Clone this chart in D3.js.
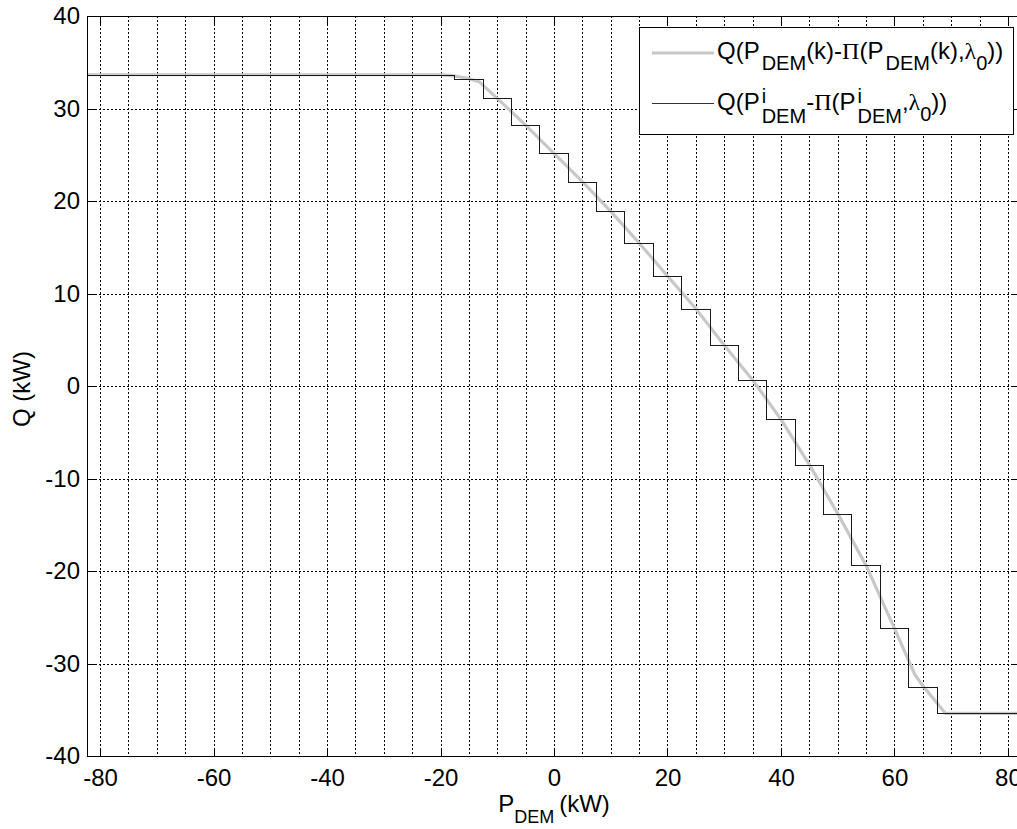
<!DOCTYPE html>
<html lang="en">
<head>
<meta charset="UTF-8">
<title>Q vs P_DEM</title>
<script src="https://cdn.jsdelivr.net/npm/d3@7"></script>
<style>
    body { margin: 0; background: #fff; }
    svg { display: block; font-family: "Liberation Sans", Arial, sans-serif; }
    .grid line { stroke: #000; stroke-width: 1; stroke-dasharray: 2,2; shape-rendering: crispEdges; }
    .frame { fill: none; stroke: #000; stroke-width: 1; shape-rendering: crispEdges; }
    .axis line { stroke: #000; shape-rendering: crispEdges; }
    .axis path { display: none; }
    .axis text { fill: #000; }
</style>
</head>
<body>
<svg id="chart" width="1017" height="829"></svg>
<script>
    // axis limits and tick labels
    let xLimits = [-82.3, 82.3]
    let yLimits = [-40, 40]
    let xTicks = [-80, -60, -40, -20, 0, 20, 40, 60, 80]
    let yTicks = [-40, -30, -20, -10, 0, 10, 20, 30, 40]

    // continuous curve Q(P_DEM(k) - Pi(P_DEM(k), lambda0))  (grey)
    let curveP = [-82.3, -20, -18, -15.5, -13.2, -10, -5, 0, 5, 10, 15, 20, 25, 30, 35, 40, 45, 50, 55, 60, 63.6, 65, 69, 82.3]
    let curveQ = [33.65, 33.65, 33.55, 33.3, 32.9, 31.1, 28.2, 25.16, 22.09, 18.88, 15.46, 11.89, 8.35, 4.4, 0.65, -3.6, -8.5, -13.8, -19.4, -26.2, -31.2, -32.4, -35.4, -35.4]

    // quantised levels Q(P^i_DEM - Pi(P^i_DEM, lambda0))  (black steps)
    let stepP = [-82.3, -20, -15, -10, -5, 0, 5, 10, 15, 20, 25, 30, 35, 40, 45, 50, 55, 60, 65, 70, 82.3]
    let stepQ = [33.65, 33.65, 33.16, 31.1, 28.2, 25.16, 22.09, 18.88, 15.46, 11.89, 8.35, 4.4, 0.65, -3.6, -8.5, -13.8, -19.4, -26.2, -32.5, -35.4, -35.4]

    let plot = {left: 87, right: 1021, top: 16, bottom: 756}
    let svg = d3.select('#chart')

    let x = d3.scaleLinear().domain(xLimits).range([plot.left, plot.right])
    let y = d3.scaleLinear().domain(yLimits).range([plot.bottom, plot.top])
    let px = v => Math.round(x(v)) + 0.5
    let py = v => Math.round(y(v)) + 0.5
    let plain = d => String(d)   // hyphen minus like the original

    // dotted grid: minor every 5 on x, every 10 on y
    let grid = svg.append('g').attr('class', 'grid')
    grid.selectAll('.vg')
        .data(d3.range(-80, 81, 5))
        .enter().append('line')
        .attr('x1', d => px(d)).attr('x2', d => px(d))
        .attr('y1', plot.top).attr('y2', plot.bottom)
    grid.selectAll('.hg')
        .data(yTicks.slice(1, -1))
        .enter().append('line')
        .attr('y1', d => py(d)).attr('y2', d => py(d))
        .attr('x1', plot.left).attr('x2', plot.right)

    let curveData = curveP.map((p, i) => [p, curveQ[i]])
    let stepData = stepP.map((p, i) => [p, stepQ[i]])

    svg.append('path')
        .datum(curveData)
        .attr('d', d3.line().x(d => x(d[0])).y(d => y(d[1])))
        .attr('fill', 'none')
        .attr('stroke', '#c8c8c8')
        .attr('stroke-width', 3.2)

    svg.append('path')
        .datum(stepData)
        .attr('d', d3.line().x(d => x(d[0])).y(d => py(d[1])).curve(d3.curveStep))
        .attr('fill', 'none')
        .attr('stroke', '#1a1a1a')
        .attr('stroke-width', 1)
        .attr('shape-rendering', 'crispEdges')

    // axes: ticks point inwards, box around plot
    let axFont = 24
    svg.append('g').attr('class', 'axis')
        .attr('transform', `translate(0,${plot.bottom})`)
        .call(d3.axisBottom(x).tickValues(xTicks).tickSizeInner(-8).tickSizeOuter(0).tickPadding(13).tickFormat(plain))
        .attr('font-size', axFont).attr('font-family', null)
    svg.append('g').attr('class', 'axis')
        .attr('transform', `translate(0,${plot.top})`)
        .call(d3.axisTop(x).tickValues(xTicks).tickSizeInner(-8).tickSizeOuter(0).tickFormat(''))
    svg.append('g').attr('class', 'axis')
        .attr('transform', `translate(${plot.left},0)`)
        .call(d3.axisLeft(y).tickValues(yTicks).tickSizeInner(-8).tickSizeOuter(0).tickPadding(7).tickFormat(plain))
        .attr('font-size', axFont).attr('font-family', null)
    svg.append('g').attr('class', 'axis')
        .attr('transform', `translate(${plot.right},0)`)
        .call(d3.axisRight(y).tickValues(yTicks).tickSizeInner(-8).tickSizeOuter(0).tickFormat(''))

    svg.append('rect').attr('class', 'frame')
        .attr('x', plot.left).attr('y', plot.top)
        .attr('width', plot.right - plot.left).attr('height', plot.bottom - plot.top)

    // text with sub/superscripts; parts laid out left to right
    function richText(parent, x0, y0, parts) {
        let cx = x0, lastX = x0
        parts.forEach(p => {
            let tx = p.stack ? lastX : cx
            let t = parent.append('text')
                .attr('x', tx).attr('y', y0 + (p.dy || 0))
                .attr('font-size', p.size)
                .attr('fill', '#000')
                .text(p.t)
            if (p.serif) t.attr('font-family', '"Liberation Serif", serif')
            let w = t.node().getComputedTextLength() + (p.gap || 0)
            if (p.stack) cx = Math.max(cx, tx + w)
            else { lastX = tx; cx = tx + w }
        })
        return cx - x0
    }

    // axis labels
    let xl = svg.append('g')
    let xlw = richText(xl, 0, 0, [
        {t: 'P', size: 24},
        {t: 'DEM', size: 18, dy: 11, gap: 5},
        {t: '(kW)', size: 24}
    ])
    xl.attr('transform', `translate(${(plot.left + plot.right) / 2 - xlw / 2},812)`)

    svg.append('text')
        .attr('transform', `translate(30,389) rotate(-90)`)
        .attr('text-anchor', 'middle')
        .attr('font-size', 24)
        .text('Q (kW)')

    // legend
    let lg = svg.append('g')
    lg.append('rect')
        .attr('x', 639.5).attr('y', 27.5).attr('width', 374).attr('height', 107)
        .attr('fill', '#fff').attr('stroke', '#000').attr('shape-rendering', 'crispEdges')
    lg.append('line').attr('x1', 652).attr('x2', 714).attr('y1', 53).attr('y2', 53)
        .attr('stroke', '#c8c8c8').attr('stroke-width', 3.2)
    lg.append('line').attr('x1', 652).attr('x2', 714).attr('y1', 103.5).attr('y2', 103.5)
        .attr('stroke', '#333').attr('stroke-width', 1.2)

    let main = 24, sub = 20
    richText(lg, 717, 59, [
        {t: 'Q(P', size: main, gap: 2},
        {t: 'DEM', size: sub, dy: 11},
        {t: '(k)-', size: main},
        {t: 'Π', size: main, serif: true},
        {t: '(P', size: main, gap: 2},
        {t: 'DEM', size: sub, dy: 11},
        {t: '(k),', size: main},
        {t: 'λ', size: main, serif: true},
        {t: '0', size: sub, dy: 11},
        {t: '))', size: main}
    ])
    richText(lg, 717, 110, [
        {t: 'Q(P', size: main, gap: 2},
        {t: 'i', size: sub, dy: -7},
        {t: 'DEM', size: sub, dy: 13, stack: true},
        {t: '-', size: main},
        {t: 'Π', size: main, serif: true},
        {t: '(P', size: main, gap: 2},
        {t: 'i', size: sub, dy: -7},
        {t: 'DEM', size: sub, dy: 13, stack: true},
        {t: ',', size: main},
        {t: 'λ', size: main, serif: true},
        {t: '0', size: sub, dy: 11},
        {t: '))', size: main}
    ])
</script>
</body>
</html>
